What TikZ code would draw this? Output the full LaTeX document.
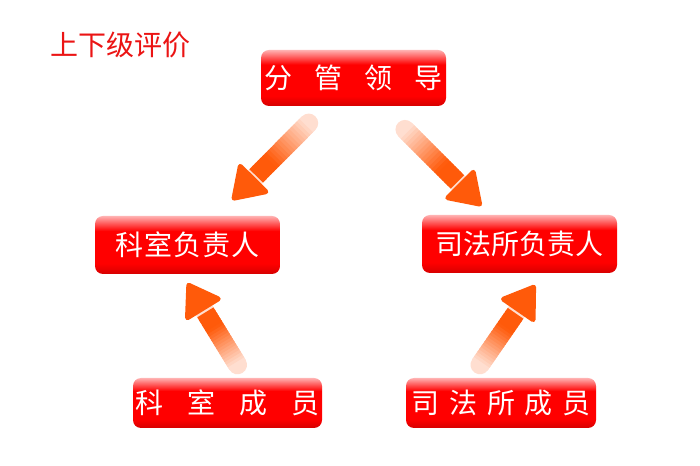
\documentclass[tikz,border=0pt]{standalone}
\usepackage{fontspec}
\setmainfont{Noto Sans CJK SC}
\usetikzlibrary{positioning, calc, arrows.meta}

\definecolor{btnlight}{RGB}{255,178,178}
\definecolor{btnred}{RGB}{255,0,0}
\definecolor{btndark}{RGB}{214,0,0}
\definecolor{arrhead}{RGB}{255,90,10}
\definecolor{arrtail}{RGB}{255,222,208}
\definecolor{titlered}{RGB}{235,20,20}

\pgfdeclareverticalshading{btnshade}{100bp}{color(0bp)=(btndark); color(25bp)=(btndark); color(34bp)=(btnred); color(62bp)=(btnred); color(75bp)=(btnlight); color(100bp)=(btnlight)}

\tikzset{
    btn/.style={shade, shading=btnshade, rounded corners=8pt, inner sep=0pt,
        text=white, font=\fontsize{28}{30}\selectfont},
    bigarrow/.style={line width=19pt, draw=arrtail, line cap=round,
        -{Triangle[length=34pt, width=44pt, line width=5pt, round, color=arrhead]}},
    title/.style={text=titlered, font=\fontsize{28}{30}\selectfont, inner sep=0pt},
}

% shaft fading from the tail (#1) to the head base
\newcommand{\arrowfade}[2]{%
    \coordinate (fadeend) at ($(#2)!36pt!(#1)$);
    \foreach \i in {0,...,19} {
        \pgfmathsetmacro\pct{min(100,\i*7)}
        \draw[line width=19pt, draw=arrhead!\pct!arrtail]
            ($(#1)!\i/20!(fadeend)$) -- ($(#1)!\i/20+0.08!(fadeend)$);
    }
}

\begin{document}
\begin{tikzpicture}[x=1pt, y=1pt]
    \path[use as bounding box, fill=white] (0,0) rectangle (700,465);

    \node[title, anchor=west] (title) at (50,420.5) {上下级评价};

    \node[btn, minimum width=185pt, minimum height=56pt] (lead) at (353.5,387)
        {分\hspace{22pt}管\hspace{22pt}领\hspace{22pt}导};
    \node[btn, minimum width=185pt, minimum height=58pt] (ks) at (187.5,220)
        {科\hspace{1pt}室\hspace{1pt}负\hspace{1pt}责\hspace{1pt}人};
    \node[btn, minimum width=195pt, minimum height=58pt] (sf) at (519.5,221) {司法所负责人};
    \node[btn, minimum width=189pt, minimum height=50pt] (kcy) at (227.5,62)
        {科\hspace{24pt}室\hspace{24pt}成\hspace{24pt}员};
    \node[btn, minimum width=190pt, minimum height=50pt] (scy) at (501,62)
        {司\hspace{10pt}法\hspace{10pt}所\hspace{10pt}成\hspace{10pt}员};

    \coordinate (t1) at ($(lead)!0.27!(ks)$);
    \coordinate (h1) at ($(lead)!0.73!(ks)$);
    \coordinate (t2) at ($(lead)!0.31!(sf)$);
    \coordinate (h2) at ($(lead)!0.77!(sf)$);
    \coordinate (t3) at ($(kcy.north)+(10,13)$);
    \coordinate (h3) at ($(ks.south)+(0,-9)$);
    \coordinate (t4) at ($(scy.north)+(-21,13)$);
    \coordinate (h4) at ($(sf.south)+(15.5,-12)$);

    \draw[bigarrow] (t1) -- (h1);
    \arrowfade{t1}{h1}
    \draw[bigarrow] (t2) -- (h2);
    \arrowfade{t2}{h2}
    \draw[bigarrow] (t3) -- (h3);
    \arrowfade{t3}{h3}
    \draw[bigarrow] (t4) -- (h4);
    \arrowfade{t4}{h4}
\end{tikzpicture}
\end{document}
